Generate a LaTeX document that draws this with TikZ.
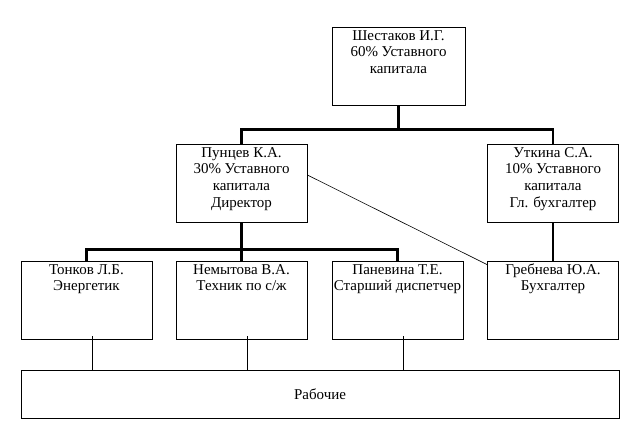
\documentclass[tikz,border=0pt]{standalone}
\usepackage{fontspec}
\setmainfont{Liberation Serif}
\usetikzlibrary{positioning}

\begin{document}
\begin{tikzpicture}[
    x=1pt, y=-1pt,
    font=\fontsize{15}{16.8}\selectfont,
    box/.style={draw, rectangle, line width=0.8pt, minimum width=131pt, minimum height=78pt, inner sep=0pt},
    txt/.style={align=center, inner sep=0pt},
    link/.style={line width=2.6pt},
    thinlink/.style={line width=0.6pt}
]
\useasboundingbox (0,0) rectangle (626,426);

% Owners and management
\node[box, minimum width=133pt] (shest) at (398.5,66) {};
\node[box] (punc) at (241.5,183) {};
\node[box] (utk) at (553,183) {};

% Staff
\node[box] (tonk) at (86.5,300) {};
\node[box] (nem) at (241.5,300) {};
\node[box] (pan) at (397.5,300) {};
\node[box] (greb) at (553,300) {};

% Workers
\node[box, minimum width=598pt, minimum height=48pt] (rab) at (320,394) {Рабочие};

% Box texts
\node[txt, below=1.5pt of shest.north] (shest-t) {\strut Шестаков И.Г.\\60\% Уставного\\капитала};
\node[txt, below=1.5pt of punc.north] (punc-t) {\strut Пунцев К.А.\\30\% Уставного\\капитала\\Директор};
\node[txt, below=1.5pt of utk.north] (utk-t) {\strut Уткина С.А.\\10\% Уставного\\капитала\\Гл. бухгалтер};
\node[txt, below=1.5pt of tonk.north] (tonk-t) {\strut Тонков Л.Б.\\Энергетик};
\node[txt, below=1.5pt of nem.north] (nem-t) {\strut Немытова В.А.\\Техник по с/ж};
\node[txt, below=1.5pt of pan.north] (pan-t) {\strut Паневина Т.Е.\\Старший диспетчер};
\node[txt, below=1.5pt of greb.north] (greb-t) {\strut Гребнева Ю.А.\\Бухгалтер};

% Thick links
\draw[link] (shest.south) -- ++(0,24) coordinate (top-bus);
\draw[link] (punc.north) |- (top-bus) -| (utk.north);
\draw[link] (punc.south) -- ++(0,27) coordinate (mid-bus);
\draw[link] (tonk.north) |- (mid-bus) -| (pan.north);
\draw[link] (mid-bus) -- (nem.north);
\draw[link] (utk.south) -- (utk.south |- greb.north);

% Thin links
\draw[thinlink] ([yshift=8pt]punc.east) -- ([yshift=-4pt]greb.north west);
\foreach \n in {tonk, nem, pan}
    \draw[thinlink] ([xshift=5.5pt, yshift=3pt]\n.south) -- ([xshift=5.5pt]\n.south |- rab.north);

\end{tikzpicture}
\end{document}
